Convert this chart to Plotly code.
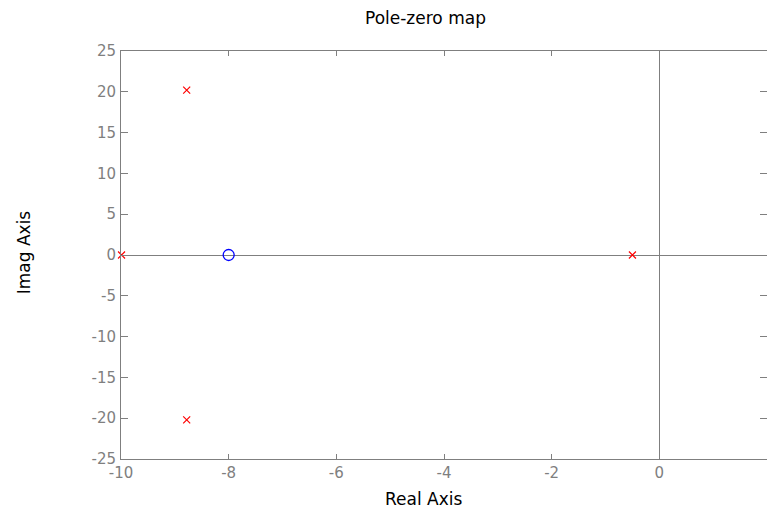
import plotly.graph_objects as go

# Pole and zero locations in the complex plane
pole_re = [-8.78, -8.78, -9.99, -0.5]
pole_im = [20.2, -20.2, 0.0, 0.0]
zero_re = [-8.0]
zero_im = [0.0]

x_ticks = [-10, -8, -6, -4, -2, 0, 2]
y_ticks = [-25, -20, -15, -10, -5, 0, 5, 10, 15, 20, 25]
x_labels = [str(v) for v in x_ticks]
y_labels = [str(v) for v in y_ticks]

GRAY = "#7f7f7f"
FONT = "DejaVu Sans"

fig = go.Figure()

fig.add_trace(go.Scatter(
    x=pole_re, y=pole_im, mode="markers", name="Poles",
    marker=dict(symbol="x-thin-open", size=7, color="red",
                line=dict(color="red", width=1.2)),
    cliponaxis=False,
))
fig.add_trace(go.Scatter(
    x=zero_re, y=zero_im, mode="markers", name="Zeros",
    marker=dict(symbol="circle-open", size=11, color="blue",
                line=dict(color="blue", width=1.3)),
    cliponaxis=False,
))

axis_common = dict(
    showgrid=False, showline=True, linecolor=GRAY, linewidth=1, mirror="ticks",
    ticks="inside", tickcolor=GRAY, tickwidth=1,
    zeroline=True, zerolinecolor=GRAY, zerolinewidth=1,
    tickfont=dict(family=FONT, size=15, color=GRAY),
)

fig.update_xaxes(range=[-10, 2], tickvals=x_ticks, ticktext=x_labels,
                 ticklen=5, **axis_common)
fig.update_yaxes(range=[-25, 25], tickvals=y_ticks, ticktext=y_labels,
                 ticklen=7, ticklabelstandoff=1, **axis_common)

ann = dict(xref="paper", yref="paper", showarrow=False,
           xanchor="center", yanchor="middle",
           font=dict(family=FONT, size=17, color="black"))
fig.add_annotation(text="Pole-zero map", x=0.472, y=1.081, **ann)
fig.add_annotation(text="Real Axis", x=0.469, y=-0.098, **ann)
fig.add_annotation(text="Imag Axis", x=-0.150, y=0.507, textangle=-90, **ann)

fig.update_layout(
    width=767, height=512,
    margin=dict(l=121, r=0, t=51, b=53),
    paper_bgcolor="white", plot_bgcolor="white",
    showlegend=False,
)

fig.write_html("out.html")
